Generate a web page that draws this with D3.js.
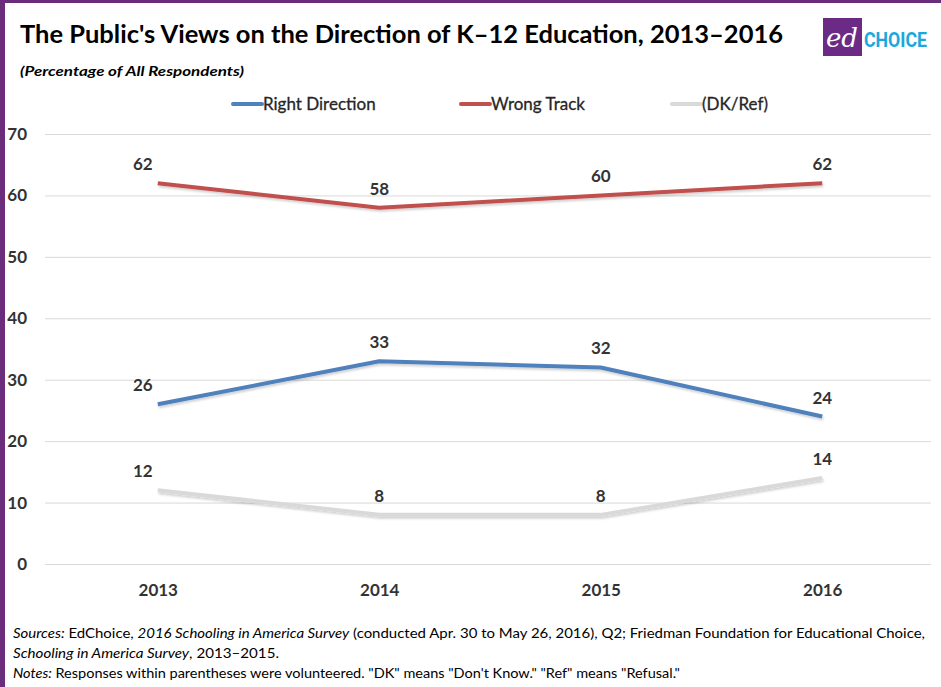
<!DOCTYPE html>
<html>
<head>
<meta charset="utf-8">
<script src="https://cdn.jsdelivr.net/npm/d3@7/dist/d3.min.js"></script>
<style>
  body { margin: 0; background: #fff; }
  svg { display: block; font-family: Lato, "Open Sans", sans-serif; }
</style>
</head>
<body>
<svg id="chart" width="941" height="687"></svg>
<script>
// data
const years = ['2013', '2014', '2015', '2016'];
const rightDirection = [26, 33, 32, 24];
const wrongTrack = [62, 58, 60, 62];
const dkRef = [12, 8, 8, 14];
const yTicks = [0, 10, 20, 30, 40, 50, 60, 70];

const seriesNames = ['Right Direction', 'Wrong Track', '(DK/Ref)'];
const seriesColors = ['#4f81bd', '#c0504d', '#d9d9d9'];

const width = 941;
const height = 687;
const svg = d3.select('#chart');

// purple frame on top and left
svg.append('rect').attr('x', 0).attr('y', 0).attr('width', width).attr('height', 3).attr('fill', '#6b2d7b');
svg.append('rect').attr('x', 0).attr('y', 0).attr('width', 5).attr('height', height).attr('fill', '#6b2d7b');

// title
svg.append('text')
  .attr('x', 20).attr('y', 43)
  .attr('font-size', 25).attr('font-weight', 700).attr('fill', '#000')
  .attr('textLength', 763).attr('lengthAdjust', 'spacingAndGlyphs')
  .text("The Public's Views on the Direction of K\u201312 Education, 2013\u20132016");

svg.append('text')
  .attr('x', 20).attr('y', 76)
  .attr('font-size', 13.5).attr('font-weight', 700).attr('font-style', 'italic').attr('fill', '#000')
  .attr('textLength', 224).attr('lengthAdjust', 'spacingAndGlyphs')
  .text('(Percentage of All Respondents)');

// logo
const logo = svg.append('g');
logo.append('rect').attr('x', 823).attr('y', 18).attr('width', 39).attr('height', 38).attr('fill', '#6b2a86');
logo.append('text').attr('x', 842).attr('y', 47).attr('text-anchor', 'middle')
  .attr('font-family', '"DejaVu Serif", serif').attr('font-style', 'italic')
  .attr('font-size', 26).attr('fill', '#fff').text('ed');
logo.append('text').attr('x', 864).attr('y', 47)
  .attr('font-family', '"Liberation Sans Narrow", Roboto, sans-serif').attr('font-weight', 700)
  .attr('font-size', 21).attr('fill', '#1ba8dc')
  .attr('textLength', 63).attr('lengthAdjust', 'spacingAndGlyphs').text('CHOICE');

// legend
const legendX = [233, 461, 672];
const legend = svg.append('g');
seriesNames.forEach((name, i) => {
  legend.append('line')
    .attr('x1', legendX[i]).attr('x2', legendX[i] + 29)
    .attr('y1', 104).attr('y2', 104)
    .attr('stroke', seriesColors[i]).attr('stroke-width', 4).attr('stroke-linecap', 'round');
  legend.append('text')
    .attr('x', legendX[i] + 30).attr('y', 110)
    .attr('font-size', 17).attr('fill', '#262626')
    .attr('stroke', '#262626').attr('stroke-width', 0.3)
    .text(name);
});

// scales
const margin = { top: 134, right: 8, bottom: 123, left: 47 };
const x = d3.scalePoint()
  .domain(years)
  .range([margin.left, width - margin.right])
  .padding(0.5);

const y = d3.scaleLinear()
  .domain([0, 70])
  .range([height - margin.bottom, margin.top]);

// gridlines
const yAxis = g => g
  .attr('transform', `translate(45,0)`)
  .call(d3.axisLeft(y).tickValues(yTicks).tickSize(-(width - 45 - 10)).tickPadding(18))
  .call(g => g.select('.domain').remove())
  .call(g => g.selectAll('.tick line').attr('stroke', '#d9d9d9').attr('stroke-width', 1))
  .call(g => g.selectAll('.tick text')
    .attr('font-size', 17).attr('font-weight', 700).attr('fill', '#333')
    .attr('font-family', 'Lato, sans-serif'));

const xAxis = g => g
  .attr('transform', `translate(0,${height - margin.bottom})`)
  .call(d3.axisBottom(x).tickSize(0).tickPadding(20))
  .call(g => g.select('.domain').remove())
  .call(g => g.selectAll('.tick text')
    .attr('font-size', 17).attr('font-weight', 700).attr('fill', '#333')
    .attr('font-family', 'Lato, sans-serif'));

svg.append('g').call(yAxis);
svg.append('g').call(xAxis);

// lines
const allSeries = [rightDirection, wrongTrack, dkRef];
const line = d3.line()
  .x((d, i) => x(years[i]))
  .y(d => y(d));

const defs = svg.append('defs');
defs.append('filter').attr('id', 'shadow')
  .attr('x', '-5%').attr('y', '-50%').attr('width', '110%').attr('height', '200%')
  .append('feDropShadow')
  .attr('dx', 1).attr('dy', 2).attr('stdDeviation', 1.2)
  .attr('flood-color', '#000').attr('flood-opacity', 0.18);

const gLines = svg.append('g');
allSeries.forEach((values, s) => {
  gLines.append('path')
    .datum(values)
    .attr('fill', 'none')
    .attr('stroke', seriesColors[s])
    .attr('stroke-width', 4)
    .attr('stroke-linejoin', 'round')
    .attr('filter', 'url(#shadow)')
    .attr('d', line);
});

// data labels (first year's labels sit up-left of the point)
const gLabels = svg.append('g');
allSeries.forEach(values => {
  values.forEach((v, i) => {
    gLabels.append('text')
      .attr('x', x(years[i]) + (i === 0 ? -15 : 0))
      .attr('y', y(v) - 13)
      .attr('text-anchor', 'middle')
      .attr('font-size', 17).attr('font-weight', 700).attr('fill', '#333')
      .text(v);
  });
});

// footer
const footer = svg.append('g')
  .attr('font-size', 13.5).attr('fill', '#000');

const f1 = footer.append('text').attr('x', 13).attr('y', 638)
  .attr('textLength', 912).attr('lengthAdjust', 'spacingAndGlyphs');
f1.append('tspan').attr('font-style', 'italic').text('Sources:');
f1.append('tspan').text(' EdChoice, ');
f1.append('tspan').attr('font-style', 'italic').text('2016 Schooling in America Survey');
f1.append('tspan').text(' (conducted Apr. 30 to May 26, 2016), Q2; Friedman Foundation for Educational Choice,');

const f2 = footer.append('text').attr('x', 13).attr('y', 658)
  .attr('textLength', 266).attr('lengthAdjust', 'spacingAndGlyphs');
f2.append('tspan').attr('font-style', 'italic').text('Schooling in America Survey');
f2.append('tspan').text(', 2013\u20132015.');

const f3 = footer.append('text').attr('x', 13).attr('y', 678)
  .attr('textLength', 667).attr('lengthAdjust', 'spacingAndGlyphs');
f3.append('tspan').attr('font-style', 'italic').text('Notes:');
f3.append('tspan').text(' Responses within parentheses were volunteered. "DK" means "Don\'t Know."  "Ref" means "Refusal."');
</script>
</body>
</html>
